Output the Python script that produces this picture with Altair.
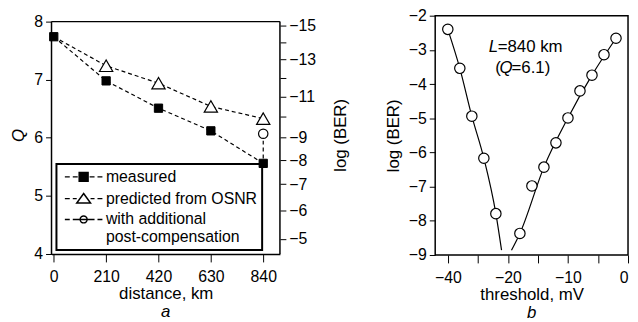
import altair as alt
import pandas as pd

FONT = "Liberation Sans"

# ---------------- panel a ----------------
distance_km = [0, 210, 420, 630, 840]
q_measured = [7.74, 6.98, 6.51, 6.12, 5.56]
q_predicted = [7.74, 7.24, 6.94, 6.54, 6.33]
post_distance = [840]
q_post = [6.07]
series_names = ["measured", "predicted from OSNR", "with additional post-compensation"]

ber_exponent = [-15, -14, -13, -12, -11, -10, -9, -8, -7, -6, -5]
ber_q_position = [7.94, 7.65, 7.35, 7.03, 6.71, 6.36, 6.00, 5.61, 5.20, 4.75, 4.26]
ber_labelled = [-15, -13, -11, -9, -8, -7, -6, -5]

dist_ticks = [0, 210, 420, 630, 840]
q_ticks = [4, 5, 6, 7, 8]
dist_domain = [-9, 907]
q_domain = [4, 8.102]
q_frame = [4, 8]

# ---------------- panel b ----------------
thr_left = [-30, -28, -26, -24, -22]
logber_left = [-2.40, -3.54, -4.94, -6.17, -7.79]
thr_right = [-18, -16, -14, -12, -10, -8, -6, -4, -2]
logber_right = [-8.37, -6.98, -6.43, -5.72, -4.99, -4.20, -3.74, -3.14, -2.66]
fit_left_x = [-30, -28, -26, -24, -22, -21.05]
fit_left_y = [-2.40, -3.54, -4.94, -6.17, -7.79, -8.86]
fit_right_x = [-19.4, -18, -14, -10, -6, -2]
fit_right_y = [-8.86, -8.37, -6.43, -4.99, -3.74, -2.66]
thr_ticks = [-30, -25, -20, -15, -10, -5, 0]
thr_tick_labels = ["−40", "", "−20", "", "−10", "", "0"]
logber_ticks = [-9, -8, -7, -6, -5, -4, -3, -2]
thr_domain = [-32.1, 0]
logber_domain = [-9, -2]

ann_x = [-23.2, -21.7, -22.1, -21.4, -19.4]
ann_y = [-2.91, -2.91, -3.52, -3.52, -3.52]
ann_text = ["L", "=840 km", "(", "Q", "=6.1)"]
ann_italic = [True, False, False, True, False]

# legend symbols: dashed line segment with marker (unit coords)
legend_paths = [
    "M-1,0H0.1M0.78,0H1.89M2.22,-1H4.22V1H2.22ZM4.56,0H5.67M6.33,0H7.44",
    "M-1,0H0.1M0.78,0H1.67M3.22,-1.15L4.77,1L1.67,1ZM4.77,0H5.67M6.33,0H7.44",
    "M-1,0H0.1M0.78,0H1.89M2.44,0A0.78,0.78 0 1,1 4.0,0A0.78,0.78 0 1,1 2.44,0ZM1.89,0H4.56M4.56,0H5.67M6.33,0H7.44",
]
legend_fill = ["black", "white", "white"]

# ---------------- helpers ----------------
def ternary(values, labels):
    parts = [f"abs(datum.value - ({v})) < 0.001 ? '{l}'" for v, l in zip(values, labels)]
    return " : ".join(parts) + " : ''"

ber_labels = [f"−{abs(e)}" if e in ber_labelled else "" for e in ber_exponent]

xa = alt.Scale(domain=dist_domain, nice=False, zero=False)
ya = alt.Scale(domain=q_domain, nice=False, zero=False)
xa_axis = alt.Axis(values=dist_ticks, format="d", title="distance, km", tickSize=8, labelPadding=7,
                   titlePadding=1)
ya_axis = alt.Axis(values=q_ticks, format="d", title="Q", titleFontStyle="italic", domain=False, titlePadding=6)

def X(field="x"):
    return alt.X(f"{field}:Q", scale=xa, axis=xa_axis)

def Y(field="y"):
    return alt.Y(f"{field}:Q", scale=ya, axis=ya_axis)

meas_df = pd.DataFrame({"x": distance_km, "y": q_measured})
pred_df = pd.DataFrame({"x": distance_km, "y": q_predicted})
pred_marker_df = pred_df[pred_df.x > distance_km[0]]
post_df = pd.DataFrame({"x": post_distance, "y": q_post})
post_line_df = pd.DataFrame({"x": [post_distance[0], distance_km[-1]], "y": [q_post[0], q_measured[-1]]})
frame_df = pd.DataFrame({
    "x": [dist_domain[0], dist_domain[0], dist_domain[1]],
    "x2": [dist_domain[1], dist_domain[0], dist_domain[1]],
    "y": [q_frame[1], q_frame[0], q_frame[0]],
    "y2": [q_frame[1], q_frame[1], q_frame[1]],
})
legend_df = pd.DataFrame({"series": series_names, "x": [0, 0, 0], "y": [q_frame[0]] * 3})

dash = [4, 3]
frame = alt.Chart(frame_df).mark_rule(color="black", strokeWidth=1.5).encode(
    x=X(), x2="x2:Q", y=Y(), y2="y2:Q")
pred_line = alt.Chart(pred_df).mark_line(color="black", strokeWidth=1.2, strokeDash=dash).encode(x=X(), y=Y())
meas_line = alt.Chart(meas_df).mark_line(color="black", strokeWidth=1.2, strokeDash=dash).encode(x=X(), y=Y())
post_line = alt.Chart(post_line_df).mark_line(color="black", strokeWidth=1.2, strokeDash=dash).encode(x=X(), y=Y())
pred_pts = alt.Chart(pred_marker_df).mark_point(shape="triangle-up", filled=True, fill="white", stroke="black",
                                                strokeWidth=1.2, size=180, opacity=1).encode(x=X(), y=Y())
meas_pts = alt.Chart(meas_df).mark_point(shape="square", filled=True, fill="black", stroke="black",
                                         strokeWidth=1, size=70, opacity=1).encode(x=X(), y=Y())
post_pts = alt.Chart(post_df).mark_point(shape="circle", filled=True, fill="white", stroke="black",
                                         strokeWidth=1.2, size=90, opacity=1).encode(x=X(), y=Y())

leg = alt.Legend(
    orient="none", legendX=5, legendY=150, title=None,
    labelFont=FONT, labelFontSize=16, labelColor="black",
    symbolSize=81, labelOffset=29, padding=5, rowPadding=5,
    strokeColor="black",
    labelExpr="datum.label == 'with additional post-compensation' ? ['with additional', 'post-compensation'] : datum.label",
)
legend_layer = alt.Chart(legend_df).mark_point(filled=True, stroke="black", strokeWidth=1.2, opacity=1).encode(
    x=X(), y=Y(),
    shape=alt.Shape("series:N", scale=alt.Scale(domain=series_names, range=legend_paths), legend=leg),
    fill=alt.Fill("series:N", scale=alt.Scale(domain=series_names, range=legend_fill), legend=leg),
).transform_filter("datum.x > 100000")

inner_a = alt.layer(frame, pred_line, meas_line, post_line, pred_pts, meas_pts, post_pts, legend_layer)

ber_df = pd.DataFrame({"q": ber_q_position})
ber_axis_layer = alt.Chart(ber_df).mark_point(opacity=0).encode(
    x=alt.value(0),
    y=alt.Y("q:Q", scale=ya, axis=alt.Axis(orient="right", values=ber_q_position,
                                          labelExpr=ternary(ber_q_position, ber_labels),
                                          title="log (BER)", titleAngle=270, titleBaseline="top",
                                          titlePadding=17, domain=False)),
)

panel_a = alt.layer(inner_a, ber_axis_layer).resolve_scale(y="independent").properties(
    width=231, height=241,
    view=alt.ViewBackground(strokeOpacity=0),
    title=alt.TitleParams("a", orient="bottom", frame="group", font=FONT, fontSize=17,
                          fontStyle="italic", fontWeight="normal", color="black", offset=3),
)

# ---------------- panel b chart ----------------
xb = alt.Scale(domain=thr_domain, nice=False, zero=False)
yb = alt.Scale(domain=logber_domain, nice=False, zero=False)
xb_axis = alt.Axis(values=thr_ticks, labelExpr=ternary(thr_ticks, thr_tick_labels), title="threshold, mV",
                   domain=False, tickSize=8, labelPadding=7, titlePadding=1)
yb_axis = alt.Axis(values=logber_ticks, format="d", title="log (BER)", domain=False, titlePadding=6)

pts_b = pd.DataFrame({"x": thr_left + thr_right, "y": logber_left + logber_right})
fitl = pd.DataFrame({"x": fit_left_x, "y": fit_left_y})
fitr = pd.DataFrame({"x": fit_right_x, "y": fit_right_y})
ann_df = pd.DataFrame({"x": ann_x, "y": ann_y, "text": ann_text, "italic": ann_italic})

def XB():
    return alt.X("x:Q", scale=xb, axis=xb_axis)

def YB():
    return alt.Y("y:Q", scale=yb, axis=yb_axis)

fit_l = alt.Chart(fitl).mark_line(color="black", strokeWidth=1.2, interpolate="monotone").encode(x=XB(), y=YB())
fit_r = alt.Chart(fitr).mark_line(color="black", strokeWidth=1.2, interpolate="monotone").encode(x=XB(), y=YB())
circ = alt.Chart(pts_b).mark_point(shape="circle", filled=True, fill="white", stroke="black",
                                   strokeWidth=1.2, size=110, opacity=1).encode(x=XB(), y=YB())
txt_it = alt.Chart(ann_df[ann_df.italic]).mark_text(align="left", baseline="middle", font=FONT, fontSize=17,
                                                   fontStyle="italic", color="black").encode(x=XB(), y=YB(), text="text:N")
txt_n = alt.Chart(ann_df[~ann_df.italic]).mark_text(align="left", baseline="middle", font=FONT, fontSize=17,
                                                   color="black").encode(x=XB(), y=YB(), text="text:N")

panel_b = alt.layer(fit_l, fit_r, circ, txt_it, txt_n).properties(
    width=195, height=242,
    view=alt.ViewBackground(stroke="black", strokeWidth=1.5),
    title=alt.TitleParams("b", orient="bottom", frame="group", font=FONT, fontSize=17,
                          fontStyle="italic", fontWeight="normal", color="black", offset=3),
)

chart = alt.hconcat(panel_a, panel_b, spacing=157, bounds="flush").properties(
    padding={"left": 2, "top": -3, "right": 0, "bottom": 0},
).configure_view(stroke="black", strokeWidth=1.5).configure_axis(
    labelFont=FONT, labelFontSize=16, labelColor="black",
    titleFont=FONT, titleFontSize=17, titleFontWeight="normal", titleColor="black",
    tickColor="black", tickSize=6, tickWidth=1, domainColor="black", domainWidth=1.5,
    grid=False, labelPadding=3,
).configure_legend(strokeWidth=2)

chart.save("out.html", embed_options={"renderer": "svg", "actions": False})
